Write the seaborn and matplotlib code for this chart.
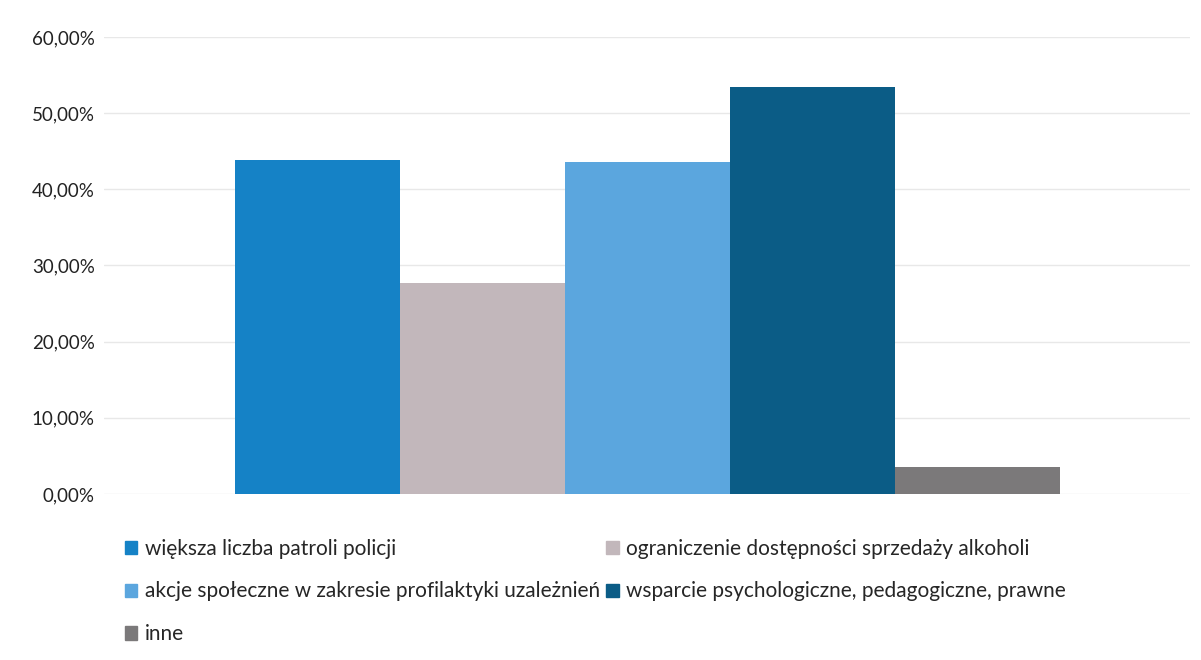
import pandas as pd
import matplotlib
matplotlib.use("Agg")
import matplotlib.pyplot as plt
import seaborn as sns
from matplotlib.ticker import FuncFormatter

# Categories and percentage values
categories = [
    "większa liczba patroli policji",
    "ograniczenie dostępności sprzedaży alkoholi",
    "akcje społeczne w zakresie profilaktyki uzależnień",
    "wsparcie psychologiczne, pedagogiczne, prawne",
    "inne",
]
values = [43.8, 27.7, 43.6, 53.4, 3.5]
colors = ["#1582c6", "#c2b7bb", "#5ba6de", "#0b5c86", "#7b797a"]

df = pd.DataFrame({"Kategoria": categories, "Procent": values})

sns.set_style("white")
plt.rcParams["font.family"] = ["Lato", "DejaVu Sans"]

fig = plt.figure(figsize=(12.01, 6.6), dpi=100)
ax = fig.add_axes([0.087, 0.2515, 0.904, 0.6925])

sns.barplot(data=df, x="Kategoria", y="Procent", hue="Kategoria",
            palette=colors, width=1.0, dodge=False, legend=False, ax=ax,
            saturation=1, linewidth=0)

ax.set_ylim(0, 60)
ax.set_xlim(-1.29, 5.29)
ax.set_yticks(range(0, 61, 10))
ax.yaxis.set_major_formatter(FuncFormatter(lambda v, p: f"{v:.2f}%".replace(".", ",")))
ax.tick_params(axis="y", labelsize=13.5, colors="#222222", length=0, pad=7)
ax.set_xticks([])
ax.set_xlabel("")
ax.set_ylabel("")
ax.grid(axis="y", color="#e8e8e8", linewidth=1)
ax.set_axisbelow(True)
for s in ax.spines.values():
    s.set_visible(False)

# legend, two columns, row order like the original
handles = [plt.Rectangle((0, 0), 1, 1, color=c) for c in colors]
order = [0, 2, 4, 1, 3]
fig.legend([handles[i] for i in order], [categories[i] for i in order],
           loc="upper left", bbox_to_anchor=(0.104, 0.184), ncol=2,
           frameon=False, fontsize=15, handlelength=0.6, handleheight=0.6,
           handletextpad=0.35, columnspacing=0.3, labelspacing=1.1,
           borderaxespad=0, borderpad=0)

fig.savefig("out.png", dpi=100)
